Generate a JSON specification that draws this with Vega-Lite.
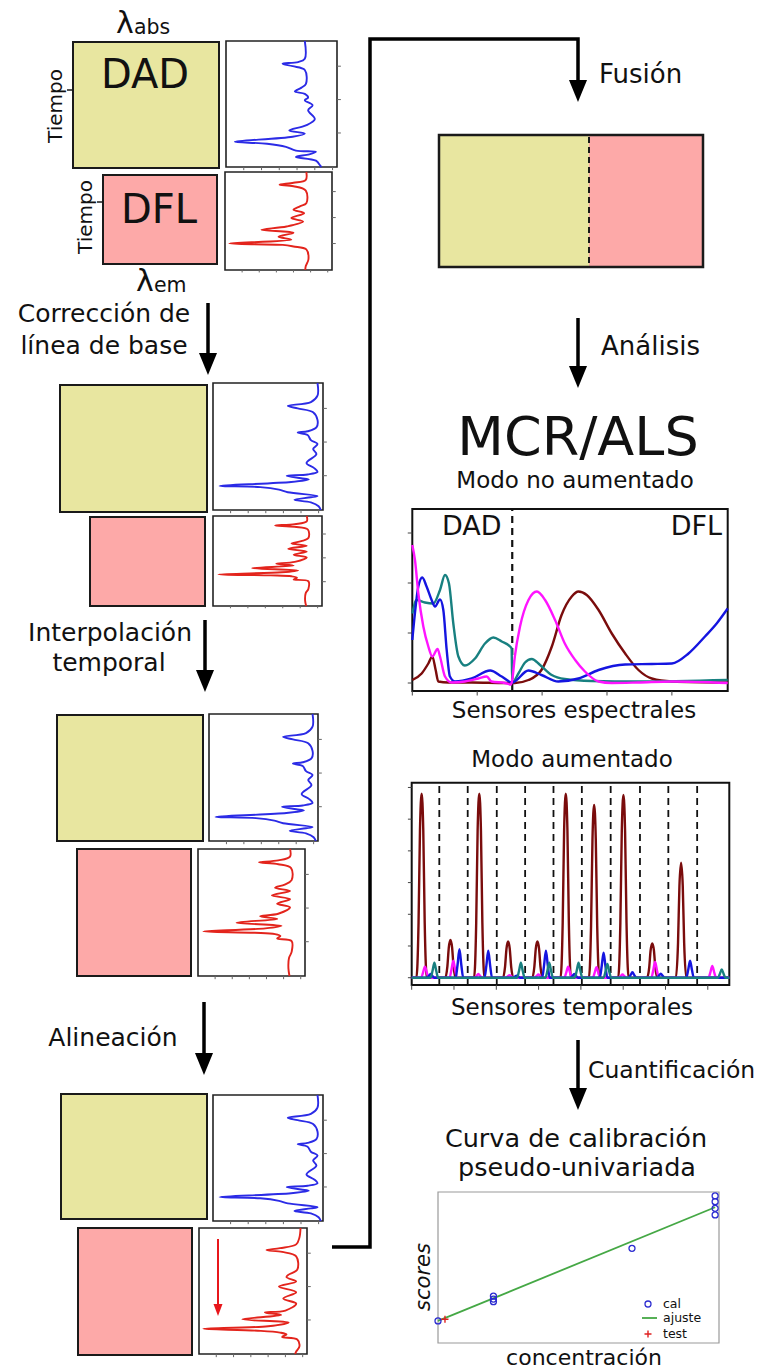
{
"$schema": "https://vega.github.io/schema/vega-lite/v6.json",
"width": 773, "height": 1370, "padding": 0, "autosize": {"type": "none"},
"background": "white",
"config": {"view": {"stroke": null}, "axis": {"disable": true}, "legend": {"disable": true}},
"resolve": {"scale": {"x": "independent", "y": "independent"}},
"datasets": {
 "rt": [{"i":1,"i2":1.035,"t":0.2},{"i":1,"i2":1.035,"t":0.465},{"i":1,"i2":1.035,"t":0.73}],
 "bt": [{"i":0.16,"t":1,"t2":1.025},{"i":0.32,"t":1,"t2":1.025},{"i":0.48,"t":1,"t2":1.025},{"i":0.64,"t":1,"t2":1.025},{"i":0.8,"t":1,"t2":1.025},{"i":0.96,"t":1,"t2":1.025}],
 "blueRaw": [{"i":0.71,"t":0},{"i":0.71,"t":0.14},{"i":0.65,"t":0.167},{"i":0.51,"t":0.18},{"i":0.6,"t":0.2},{"i":0.71,"t":0.23},{"i":0.72,"t":0.34},{"i":0.68,"t":0.37},{"i":0.62,"t":0.4},{"i":0.71,"t":0.42},{"i":0.74,"t":0.45},{"i":0.71,"t":0.47},{"i":0.78,"t":0.51},{"i":0.74,"t":0.55},{"i":0.8,"t":0.62},{"i":0.72,"t":0.67},{"i":0.57,"t":0.71},{"i":0.71,"t":0.735},{"i":0.6,"t":0.76},{"i":0.08,"t":0.8},{"i":0.37,"t":0.815},{"i":0.54,"t":0.84},{"i":0.63,"t":0.87},{"i":0.81,"t":0.88},{"i":0.75,"t":0.9},{"i":0.63,"t":0.92},{"i":0.81,"t":0.95},{"i":0.85,"t":0.99},{"i":0.86,"t":1}],
 "redRaw": [{"i":0.76,"t":0},{"i":0.755,"t":0.08},{"i":0.64,"t":0.11},{"i":0.51,"t":0.13},{"i":0.64,"t":0.145},{"i":0.755,"t":0.19},{"i":0.76,"t":0.32},{"i":0.7,"t":0.35},{"i":0.64,"t":0.385},{"i":0.74,"t":0.42},{"i":0.62,"t":0.47},{"i":0.73,"t":0.505},{"i":0.575,"t":0.556},{"i":0.34,"t":0.59},{"i":0.64,"t":0.62},{"i":0.5,"t":0.66},{"i":0.62,"t":0.69},{"i":0.04,"t":0.73},{"i":0.54,"t":0.744},{"i":0.64,"t":0.76},{"i":0.76,"t":0.79},{"i":0.78,"t":0.89},{"i":0.755,"t":0.96},{"i":0.75,"t":1}],
 "blueCorr": [{"i":0.95,"t":0},{"i":0.95,"t":0.1},{"i":0.89,"t":0.15},{"i":0.68,"t":0.18},{"i":0.77,"t":0.2},{"i":0.91,"t":0.23},{"i":0.95,"t":0.29},{"i":0.94,"t":0.35},{"i":0.86,"t":0.38},{"i":0.77,"t":0.39},{"i":0.86,"t":0.41},{"i":0.89,"t":0.45},{"i":0.95,"t":0.48},{"i":0.91,"t":0.52},{"i":0.94,"t":0.56},{"i":0.85,"t":0.63},{"i":0.92,"t":0.67},{"i":0.95,"t":0.7},{"i":0.86,"t":0.72},{"i":0.67,"t":0.73},{"i":0.8,"t":0.75},{"i":0.87,"t":0.76},{"i":0.71,"t":0.78},{"i":0.06,"t":0.81},{"i":0.43,"t":0.82},{"i":0.6,"t":0.84},{"i":0.68,"t":0.86},{"i":0.95,"t":0.89},{"i":0.89,"t":0.9},{"i":0.74,"t":0.92},{"i":0.89,"t":0.94},{"i":0.96,"t":0.97},{"i":0.98,"t":1}],
 "redCorr": [{"i":0.86,"t":0},{"i":0.86,"t":0.06},{"i":0.75,"t":0.09},{"i":0.57,"t":0.105},{"i":0.75,"t":0.12},{"i":0.87,"t":0.15},{"i":0.875,"t":0.245},{"i":0.81,"t":0.28},{"i":0.72,"t":0.305},{"i":0.86,"t":0.33},{"i":0.69,"t":0.365},{"i":0.86,"t":0.395},{"i":0.74,"t":0.43},{"i":0.86,"t":0.46},{"i":0.75,"t":0.51},{"i":0.58,"t":0.53},{"i":0.74,"t":0.55},{"i":0.36,"t":0.58},{"i":0.78,"t":0.605},{"i":0.63,"t":0.625},{"i":0.05,"t":0.65},{"i":0.53,"t":0.66},{"i":0.72,"t":0.67},{"i":0.77,"t":0.685},{"i":0.74,"t":0.705},{"i":0.875,"t":0.725},{"i":0.875,"t":0.81},{"i":0.85,"t":0.86},{"i":0.845,"t":0.94},{"i":0.855,"t":1}],
 "redAligned": [{"i":0.94,"t":0},{"i":0.93,"t":0.075},{"i":0.9,"t":0.13},{"i":0.75,"t":0.16},{"i":0.625,"t":0.175},{"i":0.77,"t":0.19},{"i":0.9,"t":0.225},{"i":0.91,"t":0.33},{"i":0.83,"t":0.37},{"i":0.81,"t":0.39},{"i":0.9,"t":0.425},{"i":0.74,"t":0.465},{"i":0.9,"t":0.51},{"i":0.78,"t":0.56},{"i":0.9,"t":0.6},{"i":0.8,"t":0.655},{"i":0.61,"t":0.67},{"i":0.76,"t":0.69},{"i":0.4,"t":0.725},{"i":0.83,"t":0.75},{"i":0.64,"t":0.78},{"i":0.04,"t":0.8},{"i":0.545,"t":0.815},{"i":0.75,"t":0.83},{"i":0.81,"t":0.845},{"i":0.77,"t":0.865},{"i":0.91,"t":0.885},{"i":0.93,"t":0.94},{"i":0.9,"t":0.98},{"i":0.89,"t":1}],
 "spec_r": [{"x":0,"y":0.06},{"x":14.4,"y":0.19},{"x":24.7,"y":0.39},{"x":30.8,"y":0.53},{"x":36,"y":0.26},{"x":40,"y":0.03},{"x":55.5,"y":0.01},{"x":91.5,"y":0.01},{"x":143,"y":0},{"x":158,"y":0},{"x":179,"y":0.06},{"x":199,"y":0.26},{"x":215,"y":0.73},{"x":230,"y":1.36},{"x":245.7,"y":1.73},{"x":256,"y":1.83},{"x":268.8,"y":1.76},{"x":287,"y":1.46},{"x":307.4,"y":0.99},{"x":328,"y":0.59},{"x":348.5,"y":0.26},{"x":369,"y":0.09},{"x":400,"y":0.03},{"x":486,"y":0.01}],
 "spec_t": [{"x":0,"y":1.39},{"x":6.7,"y":1.66},{"x":19.5,"y":1.61},{"x":32.4,"y":1.59},{"x":42.7,"y":1.86},{"x":50.4,"y":2.16},{"x":56.5,"y":1.99},{"x":63.2,"y":1.19},{"x":71,"y":0.53},{"x":81,"y":0.35},{"x":96.6,"y":0.49},{"x":112,"y":0.79},{"x":124.9,"y":0.91},{"x":137.8,"y":0.83},{"x":150.6,"y":0.73},{"x":153,"y":0.69},{"x":154,"y":0.01},{"x":163.5,"y":0.19},{"x":173.7,"y":0.41},{"x":184,"y":0.48},{"x":196.9,"y":0.36},{"x":214.9,"y":0.16},{"x":235,"y":0.08},{"x":276,"y":0.04},{"x":348,"y":0.03},{"x":486,"y":0.06}],
 "spec_b": [{"x":0,"y":0.86},{"x":4,"y":1.39},{"x":9.3,"y":1.93},{"x":15.4,"y":2.11},{"x":22,"y":1.93},{"x":29.8,"y":1.66},{"x":35,"y":1.53},{"x":42.7,"y":1.67},{"x":47.8,"y":1.46},{"x":53,"y":0.66},{"x":58,"y":0.13},{"x":65.8,"y":0.03},{"x":91.5,"y":0.09},{"x":120,"y":0.25},{"x":137.8,"y":0.13},{"x":154,"y":0.01},{"x":178.9,"y":0.25},{"x":199,"y":0.16},{"x":225,"y":0.03},{"x":256,"y":0.09},{"x":287,"y":0.26},{"x":328,"y":0.37},{"x":369,"y":0.38},{"x":400,"y":0.39},{"x":425.6,"y":0.59},{"x":451,"y":0.93},{"x":469,"y":1.19},{"x":486,"y":1.49}],
 "spec_m": [{"x":0,"y":2.76},{"x":4.1,"y":2.46},{"x":9.3,"y":1.79},{"x":17,"y":1.13},{"x":24.7,"y":0.73},{"x":30.8,"y":0.53},{"x":39,"y":0.68},{"x":42.7,"y":0.53},{"x":50.4,"y":0.13},{"x":60.7,"y":0.01},{"x":81,"y":0.03},{"x":101.8,"y":0.09},{"x":114.6,"y":0.13},{"x":122,"y":0.03},{"x":143,"y":0},{"x":152,"y":-0.03},{"x":154,"y":0.06},{"x":158,"y":0.53},{"x":166,"y":1.13},{"x":179,"y":1.66},{"x":192,"y":1.83},{"x":204.6,"y":1.66},{"x":220,"y":1.26},{"x":235,"y":0.79},{"x":251,"y":0.46},{"x":266,"y":0.23},{"x":287,"y":0.03},{"x":307,"y":0},{"x":348,"y":0.01},{"x":400,"y":0.03},{"x":486,"y":0}],
 "aug_r": [{"x":0,"y":0},{"x":10,"y":0},{"x":14.5,"y":1.74},{"x":17.5,"y":4.64},{"x":21,"y":5.8},{"x":24.5,"y":4.64},{"x":27.5,"y":1.74},{"x":32,"y":0},{"x":71,"y":0},{"x":75.5,"y":0.36},{"x":78.5,"y":0.95},{"x":82,"y":1.19},{"x":85.5,"y":0.95},{"x":88.5,"y":0.36},{"x":93,"y":0},{"x":132,"y":0},{"x":136.5,"y":1.74},{"x":139.5,"y":4.64},{"x":143,"y":5.8},{"x":146.5,"y":4.64},{"x":149.5,"y":1.74},{"x":154,"y":0},{"x":193,"y":0},{"x":197.5,"y":0.34},{"x":200.5,"y":0.91},{"x":204,"y":1.14},{"x":207.5,"y":0.91},{"x":210.5,"y":0.34},{"x":215,"y":0},{"x":255,"y":0},{"x":259.5,"y":0.34},{"x":262.5,"y":0.91},{"x":266,"y":1.14},{"x":269.5,"y":0.91},{"x":272.5,"y":0.34},{"x":277,"y":0},{"x":315,"y":0},{"x":319.5,"y":1.74},{"x":322.5,"y":4.64},{"x":326,"y":5.8},{"x":329.5,"y":4.64},{"x":332.5,"y":1.74},{"x":337,"y":0},{"x":375,"y":0},{"x":379.5,"y":1.64},{"x":382.5,"y":4.36},{"x":386,"y":5.45},{"x":389.5,"y":4.36},{"x":392.5,"y":1.64},{"x":397,"y":0},{"x":437,"y":0},{"x":441.5,"y":1.73},{"x":444.5,"y":4.61},{"x":448,"y":5.76},{"x":451.5,"y":4.61},{"x":454.5,"y":1.73},{"x":459,"y":0},{"x":498,"y":0},{"x":502.5,"y":0.32},{"x":505.5,"y":0.86},{"x":509,"y":1.08},{"x":512.5,"y":0.86},{"x":515.5,"y":0.32},{"x":520,"y":0},{"x":559,"y":0},{"x":563.5,"y":1.09},{"x":566.5,"y":2.9},{"x":570,"y":3.63},{"x":573.5,"y":2.9},{"x":576.5,"y":1.09},{"x":581,"y":0},{"x":672,"y":0}],
 "aug_m": [{"x":0,"y":0},{"x":20,"y":0},{"x":24,"y":0.16},{"x":28,"y":0.35},{"x":32,"y":0.16},{"x":36,"y":0},{"x":80,"y":0},{"x":84,"y":0.24},{"x":88,"y":0.54},{"x":92,"y":0.24},{"x":96,"y":0},{"x":133,"y":0},{"x":137,"y":0.05},{"x":141,"y":0.12},{"x":145,"y":0.05},{"x":149,"y":0},{"x":199,"y":0},{"x":203,"y":0.04},{"x":207,"y":0.08},{"x":211,"y":0.04},{"x":215,"y":0},{"x":260,"y":0},{"x":264,"y":0.05},{"x":268,"y":0.1},{"x":272,"y":0.05},{"x":276,"y":0},{"x":323,"y":0},{"x":327,"y":0.16},{"x":331,"y":0.35},{"x":335,"y":0.16},{"x":339,"y":0},{"x":383,"y":0},{"x":387,"y":0.15},{"x":391,"y":0.33},{"x":395,"y":0.15},{"x":399,"y":0},{"x":438,"y":0},{"x":442,"y":0.05},{"x":446,"y":0.1},{"x":450,"y":0.05},{"x":454,"y":0},{"x":507,"y":0},{"x":511,"y":0.23},{"x":515,"y":0.5},{"x":519,"y":0.23},{"x":523,"y":0},{"x":628,"y":0},{"x":632,"y":0.17},{"x":636,"y":0.37},{"x":640,"y":0.17},{"x":644,"y":0},{"x":672,"y":0}],
 "aug_b": [{"x":0,"y":0},{"x":32,"y":0},{"x":36,"y":0.05},{"x":40,"y":0.12},{"x":44,"y":0.05},{"x":48,"y":0},{"x":93,"y":0},{"x":97,"y":0.4},{"x":101,"y":0.9},{"x":105,"y":0.4},{"x":109,"y":0},{"x":154,"y":0},{"x":158,"y":0.38},{"x":162,"y":0.85},{"x":166,"y":0.38},{"x":170,"y":0},{"x":214,"y":0},{"x":218,"y":0.03},{"x":222,"y":0.06},{"x":226,"y":0.03},{"x":230,"y":0},{"x":276,"y":0},{"x":280,"y":0.38},{"x":284,"y":0.85},{"x":288,"y":0.38},{"x":292,"y":0},{"x":336,"y":0},{"x":340,"y":0.05},{"x":344,"y":0.12},{"x":348,"y":0.05},{"x":352,"y":0},{"x":398,"y":0},{"x":402,"y":0.36},{"x":406,"y":0.79},{"x":410,"y":0.36},{"x":414,"y":0},{"x":459,"y":0},{"x":463,"y":0.08},{"x":467,"y":0.17},{"x":471,"y":0.08},{"x":475,"y":0},{"x":519,"y":0},{"x":523,"y":0.06},{"x":527,"y":0.13},{"x":531,"y":0.06},{"x":535,"y":0},{"x":581,"y":0},{"x":585,"y":0.24},{"x":589,"y":0.54},{"x":593,"y":0.24},{"x":597,"y":0},{"x":672,"y":0}],
 "aug_t": [{"x":0,"y":0},{"x":40,"y":0},{"x":44,"y":0.21},{"x":48,"y":0.47},{"x":52,"y":0.21},{"x":56,"y":0},{"x":223,"y":0},{"x":227,"y":0.21},{"x":231,"y":0.47},{"x":235,"y":0.21},{"x":239,"y":0},{"x":283,"y":0},{"x":287,"y":0.21},{"x":291,"y":0.47},{"x":295,"y":0.21},{"x":299,"y":0},{"x":345,"y":0},{"x":349,"y":0.21},{"x":353,"y":0.47},{"x":357,"y":0.21},{"x":361,"y":0},{"x":406,"y":0},{"x":410,"y":0.19},{"x":414,"y":0.43},{"x":418,"y":0.19},{"x":422,"y":0},{"x":648,"y":0},{"x":652,"y":0.12},{"x":656,"y":0.26},{"x":660,"y":0.12},{"x":664,"y":0},{"x":672,"y":0}]
},
"layer": [
 {
  "encoding": {
   "x": {"field": "x", "type": "quantitative", "scale": {"domain": [0, 773], "range": [0, 773], "nice": false, "zero": false}},
   "y": {"field": "y", "type": "quantitative", "scale": {"domain": [0, 1370], "range": [0, 1370], "nice": false, "zero": false}}
  },
  "layer": [
   {"data": {"values": [{"x":73,"y":42,"x2":219,"y2":168},{"x":60,"y":385,"x2":207,"y2":512},{"x":57,"y":715,"x2":203,"y2":841},{"x":61,"y":1094,"x2":207,"y2":1219}]},
    "mark": {"type": "rect", "fill": "#e8e6a0", "stroke": "#1a1a1a", "strokeWidth": 2},
    "encoding": {"x2": {"field": "x2"}, "y2": {"field": "y2"}}},
   {"data": {"values": [{"x":103,"y":175,"x2":217,"y2":264},{"x":90,"y":517,"x2":205,"y2":606},{"x":77,"y":849,"x2":191,"y2":976},{"x":78,"y":1228,"x2":192,"y2":1355}]},
    "mark": {"type": "rect", "fill": "#fda9a8", "stroke": "#1a1a1a", "strokeWidth": 2},
    "encoding": {"x2": {"field": "x2"}, "y2": {"field": "y2"}}},
   {"data": {"values": [{"x":439,"y":135,"x2":589,"y2":267}]},
    "mark": {"type": "rect", "fill": "#e8e6a0"},
    "encoding": {"x2": {"field": "x2"}, "y2": {"field": "y2"}}},
   {"data": {"values": [{"x":589,"y":135,"x2":703,"y2":267}]},
    "mark": {"type": "rect", "fill": "#fda9a8"},
    "encoding": {"x2": {"field": "x2"}, "y2": {"field": "y2"}}},
   {"data": {"values": [{"x":439,"y":135,"x2":703,"y2":267}]},
    "mark": {"type": "rect", "fill": "transparent", "stroke": "#1a1a1a", "strokeWidth": 2.5},
    "encoding": {"x2": {"field": "x2"}, "y2": {"field": "y2"}}},
   {"data": {"values": [{"x":589,"y":137,"y2":265}]},
    "mark": {"type": "rule", "stroke": "#1a1a1a", "strokeWidth": 2, "strokeDash": [6, 4]},
    "encoding": {"y2": {"field": "y2"}}},
   {"data": {"values": [{"x":67,"x2":73,"y":90},{"x":97,"x2":103,"y":202}]},
    "mark": {"type": "rule", "stroke": "#1a1a1a", "strokeWidth": 1.5},
    "encoding": {"x2": {"field": "x2"}}},
   {"data": {"values": [{"x":208,"y":303,"y2":357},{"x":205,"y":620,"y2":674},{"x":204,"y":1002,"y2":1057},{"x":578,"y":318,"y2":370},{"x":578,"y":1040,"y2":1092}]},
    "mark": {"type": "rule", "stroke": "#000", "strokeWidth": 3.5},
    "encoding": {"y2": {"field": "y2"}}},
   {"data": {"values": [{"k":1,"x":332,"y":1247},{"k":2,"x":370,"y":1247},{"k":3,"x":370,"y":39},{"k":4,"x":578,"y":39},{"k":5,"x":578,"y":84}]},
    "mark": {"type": "line", "stroke": "#000", "strokeWidth": 3.5, "strokeJoin": "miter", "strokeCap": "butt"},
    "encoding": {"order": {"field": "k"}}},
   {"data": {"values": [{"x":208,"y":375},{"x":205,"y":692},{"x":204,"y":1075},{"x":578,"y":102},{"x":578,"y":388},{"x":578,"y":1110}]},
    "mark": {"type": "point", "shape": "M-0.82,-2L0.82,-2L0,0Z", "size": 484, "filled": true, "fill": "#000", "strokeWidth": 0, "opacity": 1}},
   {"data": {"values": [{"x":218,"y":1239,"y2":1306}]},
    "mark": {"type": "rule", "stroke": "#e8161b", "strokeWidth": 2},
    "encoding": {"y2": {"field": "y2"}}},
   {"data": {"values": [{"x":218,"y":1316}]},
    "mark": {"type": "point", "shape": "M-0.75,-2L0.75,-2L0,0Z", "size": 144, "filled": true, "fill": "#e8161b", "strokeWidth": 0, "opacity": 1}},
   {"data": {"values": [{"x":104,"y":322,"label":"Corrección de"},{"x":104,"y":354,"label":"línea de base"},{"x":110,"y":641,"label":"Interpolación"},{"x":109,"y":671,"label":"temporal"},{"x":113,"y":1046,"label":"Alineación"}]},
    "mark": {"type": "text", "font": "DejaVu Sans", "fontSize": 25, "align": "center", "baseline": "alphabetic", "fill": "#111"},
    "encoding": {"text": {"field": "label"}}},
   {"data": {"values": [{"x":599,"y":83,"label":"Fusión"},{"x":601,"y":355,"label":"Análisis"}]},
    "mark": {"type": "text", "font": "DejaVu Sans", "fontSize": 26, "align": "left", "baseline": "alphabetic", "fill": "#111"},
    "encoding": {"text": {"field": "label"}}},
   {"data": {"values": [{"x":588,"y":1078,"label":"Cuantificación"}]},
    "mark": {"type": "text", "font": "DejaVu Sans", "fontSize": 23.5, "align": "left", "baseline": "alphabetic", "fill": "#111"},
    "encoding": {"text": {"field": "label"}}},
   {"data": {"values": [{"x":575,"y":488,"label":"Modo no aumentado"},{"x":574,"y":718,"label":"Sensores espectrales"},{"x":572,"y":767,"label":"Modo aumentado"},{"x":572,"y":1015,"label":"Sensores temporales"}]},
    "mark": {"type": "text", "font": "DejaVu Sans", "fontSize": 23, "align": "center", "baseline": "alphabetic", "fill": "#111"},
    "encoding": {"text": {"field": "label"}}},
   {"data": {"values": [{"x":576,"y":1147,"label":"Curva de calibración"},{"x":577,"y":1176,"label":"pseudo-univariada"}]},
    "mark": {"type": "text", "font": "DejaVu Sans", "fontSize": 25.5, "align": "center", "baseline": "alphabetic", "fill": "#111"},
    "encoding": {"text": {"field": "label"}}},
   {"data": {"values": [{"x":584,"y":1365,"label":"concentración"}]},
    "mark": {"type": "text", "font": "DejaVu Sans", "fontSize": 22, "align": "center", "baseline": "alphabetic", "fill": "#111"},
    "encoding": {"text": {"field": "label"}}},
   {"data": {"values": [{"x":578,"y":455,"label":"MCR/ALS"}]},
    "mark": {"type": "text", "font": "DejaVu Sans", "fontSize": 54, "align": "center", "baseline": "alphabetic", "fill": "#111"},
    "encoding": {"text": {"field": "label"}}},
   {"data": {"values": [{"x":145,"y":88,"label":"DAD"},{"x":159,"y":223,"label":"DFL"}]},
    "mark": {"type": "text", "font": "DejaVu Sans", "fontSize": 40, "align": "center", "baseline": "alphabetic", "fill": "#111"},
    "encoding": {"text": {"field": "label"}}},
   {"data": {"values": [{"x":56,"y":106,"label":"Tiempo"},{"x":86,"y":217,"label":"Tiempo"}]},
    "mark": {"type": "text", "font": "DejaVu Sans", "fontSize": 20, "align": "center", "baseline": "middle", "angle": 270, "fill": "#111"},
    "encoding": {"text": {"field": "label"}}},
   {"data": {"values": [{"x":116,"y":33,"label":"λ"},{"x":136,"y":291,"label":"λ"}]},
    "mark": {"type": "text", "font": "DejaVu Sans", "fontSize": 30, "align": "left", "baseline": "alphabetic", "fill": "#111"},
    "encoding": {"text": {"field": "label"}}},
   {"data": {"values": [{"x":134,"y":34,"label":"abs"},{"x":154,"y":292,"label":"em"}]},
    "mark": {"type": "text", "font": "DejaVu Sans", "fontSize": 20.5, "align": "left", "baseline": "alphabetic", "fill": "#111"},
    "encoding": {"text": {"field": "label"}}},
   {"data": {"values": [{"x":442,"y":535,"label":"DAD"}]},
    "mark": {"type": "text", "font": "DejaVu Sans", "fontSize": 27, "align": "left", "baseline": "alphabetic", "fill": "#111"},
    "encoding": {"text": {"field": "label"}}},
   {"data": {"values": [{"x":722,"y":535,"label":"DFL"}]},
    "mark": {"type": "text", "font": "DejaVu Sans", "fontSize": 27, "align": "right", "baseline": "alphabetic", "fill": "#111"},
    "encoding": {"text": {"field": "label"}}},
   {"data": {"values": [{"x":424,"y":1277,"label":"scores"}]},
    "mark": {"type": "text", "font": "DejaVu Sans", "fontSize": 21, "fontStyle": "italic", "align": "center", "baseline": "middle", "angle": 270, "fill": "#111"},
    "encoding": {"text": {"field": "label"}}},
   {"data": {"values": [{"x":663,"y":1304,"label":"cal"},{"x":663,"y":1318,"label":"ajuste"},{"x":663,"y":1334,"label":"test"}]},
    "mark": {"type": "text", "font": "DejaVu Sans", "fontSize": 12.5, "align": "left", "baseline": "middle", "fill": "#111"},
    "encoding": {"text": {"field": "label"}}},
   {"data": {"values": [{"x":648,"y":1304}]},
    "mark": {"type": "point", "shape": "circle", "size": 36, "filled": false, "stroke": "#2c2cd0", "strokeWidth": 1.3, "opacity": 1}},
   {"data": {"values": [{"x":642,"x2":657,"y":1318}]},
    "mark": {"type": "rule", "stroke": "#45a845", "strokeWidth": 1.8},
    "encoding": {"x2": {"field": "x2"}}},
   {"data": {"values": [{"x":648,"y":1334}]},
    "mark": {"type": "point", "shape": "M-1,0L1,0M0,-1L0,1", "size": 49, "filled": false, "stroke": "#e02020", "strokeWidth": 1.4, "opacity": 1}}
  ]
 },
 {"encoding": {"x": {"field":"i","type":"quantitative","scale":{"domain":[0,1],"range":[226,337],"nice":false,"zero":false}},"y": {"field":"t","type":"quantitative","scale":{"domain":[0,1],"range":[41,167],"nice":false,"zero":false}}},
  "layer": [
   {"data":{"values":[{"i":0,"t":0,"i2":1,"t2":1}]},"mark":{"type":"rect","fill":"transparent","stroke":"#222","strokeWidth":1.6},"encoding":{"x2":{"field":"i2"},"y2":{"field":"t2"}}},
   {"data":{"name":"rt"},"mark":{"type":"rule","stroke":"#666","strokeWidth":1},"encoding":{"x2":{"field":"i2"}}},
   {"data":{"name":"bt"},"mark":{"type":"rule","stroke":"#666","strokeWidth":1},"encoding":{"y2":{"field":"t2"}}},
   {"data":{"name":"blueRaw"},"mark":{"type":"line","stroke":"#2b2be6","strokeWidth":1.9,"interpolate":"catmull-rom"},"encoding":{"order":{"field":"t"}}}
  ]},
 {"encoding": {"x": {"field":"i","type":"quantitative","scale":{"domain":[0,1],"range":[225,332],"nice":false,"zero":false}},"y": {"field":"t","type":"quantitative","scale":{"domain":[0,1],"range":[172,270],"nice":false,"zero":false}}},
  "layer": [
   {"data":{"values":[{"i":0,"t":0,"i2":1,"t2":1}]},"mark":{"type":"rect","fill":"transparent","stroke":"#222","strokeWidth":1.6},"encoding":{"x2":{"field":"i2"},"y2":{"field":"t2"}}},
   {"data":{"name":"rt"},"mark":{"type":"rule","stroke":"#666","strokeWidth":1},"encoding":{"x2":{"field":"i2"}}},
   {"data":{"name":"bt"},"mark":{"type":"rule","stroke":"#666","strokeWidth":1},"encoding":{"y2":{"field":"t2"}}},
   {"data":{"name":"redRaw"},"mark":{"type":"line","stroke":"#e3241c","strokeWidth":1.9,"interpolate":"catmull-rom"},"encoding":{"order":{"field":"t"}}}
  ]},
 {"encoding": {"x": {"field":"i","type":"quantitative","scale":{"domain":[0,1],"range":[213,323],"nice":false,"zero":false}},"y": {"field":"t","type":"quantitative","scale":{"domain":[0,1],"range":[383,510],"nice":false,"zero":false}}},
  "layer": [
   {"data":{"values":[{"i":0,"t":0,"i2":1,"t2":1}]},"mark":{"type":"rect","fill":"transparent","stroke":"#222","strokeWidth":1.6},"encoding":{"x2":{"field":"i2"},"y2":{"field":"t2"}}},
   {"data":{"name":"rt"},"mark":{"type":"rule","stroke":"#666","strokeWidth":1},"encoding":{"x2":{"field":"i2"}}},
   {"data":{"name":"bt"},"mark":{"type":"rule","stroke":"#666","strokeWidth":1},"encoding":{"y2":{"field":"t2"}}},
   {"data":{"name":"blueCorr"},"mark":{"type":"line","stroke":"#2b2be6","strokeWidth":1.9,"interpolate":"catmull-rom"},"encoding":{"order":{"field":"t"}}}
  ]},
 {"encoding": {"x": {"field":"i","type":"quantitative","scale":{"domain":[0,1],"range":[213,322],"nice":false,"zero":false}},"y": {"field":"t","type":"quantitative","scale":{"domain":[0,1],"range":[516,606],"nice":false,"zero":false}}},
  "layer": [
   {"data":{"values":[{"i":0,"t":0,"i2":1,"t2":1}]},"mark":{"type":"rect","fill":"transparent","stroke":"#222","strokeWidth":1.6},"encoding":{"x2":{"field":"i2"},"y2":{"field":"t2"}}},
   {"data":{"name":"rt"},"mark":{"type":"rule","stroke":"#666","strokeWidth":1},"encoding":{"x2":{"field":"i2"}}},
   {"data":{"name":"bt"},"mark":{"type":"rule","stroke":"#666","strokeWidth":1},"encoding":{"y2":{"field":"t2"}}},
   {"data":{"name":"redCorr"},"mark":{"type":"line","stroke":"#e3241c","strokeWidth":1.9,"interpolate":"catmull-rom"},"encoding":{"order":{"field":"t"}}}
  ]},
 {"encoding": {"x": {"field":"i","type":"quantitative","scale":{"domain":[0,1],"range":[209,318],"nice":false,"zero":false}},"y": {"field":"t","type":"quantitative","scale":{"domain":[0,1],"range":[714,841],"nice":false,"zero":false}}},
  "layer": [
   {"data":{"values":[{"i":0,"t":0,"i2":1,"t2":1}]},"mark":{"type":"rect","fill":"transparent","stroke":"#222","strokeWidth":1.6},"encoding":{"x2":{"field":"i2"},"y2":{"field":"t2"}}},
   {"data":{"name":"rt"},"mark":{"type":"rule","stroke":"#666","strokeWidth":1},"encoding":{"x2":{"field":"i2"}}},
   {"data":{"name":"bt"},"mark":{"type":"rule","stroke":"#666","strokeWidth":1},"encoding":{"y2":{"field":"t2"}}},
   {"data":{"name":"blueCorr"},"mark":{"type":"line","stroke":"#2b2be6","strokeWidth":1.9,"interpolate":"catmull-rom"},"encoding":{"order":{"field":"t"}}}
  ]},
 {"encoding": {"x": {"field":"i","type":"quantitative","scale":{"domain":[0,1],"range":[198,305],"nice":false,"zero":false}},"y": {"field":"t","type":"quantitative","scale":{"domain":[0,1],"range":[849,976],"nice":false,"zero":false}}},
  "layer": [
   {"data":{"values":[{"i":0,"t":0,"i2":1,"t2":1}]},"mark":{"type":"rect","fill":"transparent","stroke":"#222","strokeWidth":1.6},"encoding":{"x2":{"field":"i2"},"y2":{"field":"t2"}}},
   {"data":{"name":"rt"},"mark":{"type":"rule","stroke":"#666","strokeWidth":1},"encoding":{"x2":{"field":"i2"}}},
   {"data":{"name":"bt"},"mark":{"type":"rule","stroke":"#666","strokeWidth":1},"encoding":{"y2":{"field":"t2"}}},
   {"data":{"name":"redCorr"},"mark":{"type":"line","stroke":"#e3241c","strokeWidth":1.9,"interpolate":"catmull-rom"},"encoding":{"order":{"field":"t"}}}
  ]},
 {"encoding": {"x": {"field":"i","type":"quantitative","scale":{"domain":[0,1],"range":[213,323],"nice":false,"zero":false}},"y": {"field":"t","type":"quantitative","scale":{"domain":[0,1],"range":[1095,1221],"nice":false,"zero":false}}},
  "layer": [
   {"data":{"values":[{"i":0,"t":0,"i2":1,"t2":1}]},"mark":{"type":"rect","fill":"transparent","stroke":"#222","strokeWidth":1.6},"encoding":{"x2":{"field":"i2"},"y2":{"field":"t2"}}},
   {"data":{"name":"rt"},"mark":{"type":"rule","stroke":"#666","strokeWidth":1},"encoding":{"x2":{"field":"i2"}}},
   {"data":{"name":"bt"},"mark":{"type":"rule","stroke":"#666","strokeWidth":1},"encoding":{"y2":{"field":"t2"}}},
   {"data":{"name":"blueCorr"},"mark":{"type":"line","stroke":"#2b2be6","strokeWidth":1.9,"interpolate":"catmull-rom"},"encoding":{"order":{"field":"t"}}}
  ]},
 {"encoding": {"x": {"field":"i","type":"quantitative","scale":{"domain":[0,1],"range":[199,307],"nice":false,"zero":false}},"y": {"field":"t","type":"quantitative","scale":{"domain":[0,1],"range":[1228,1354],"nice":false,"zero":false}}},
  "layer": [
   {"data":{"values":[{"i":0,"t":0,"i2":1,"t2":1}]},"mark":{"type":"rect","fill":"transparent","stroke":"#222","strokeWidth":1.6},"encoding":{"x2":{"field":"i2"},"y2":{"field":"t2"}}},
   {"data":{"name":"rt"},"mark":{"type":"rule","stroke":"#666","strokeWidth":1},"encoding":{"x2":{"field":"i2"}}},
   {"data":{"name":"bt"},"mark":{"type":"rule","stroke":"#666","strokeWidth":1},"encoding":{"y2":{"field":"t2"}}},
   {"data":{"name":"redAligned"},"mark":{"type":"line","stroke":"#e3241c","strokeWidth":1.9,"interpolate":"catmull-rom"},"encoding":{"order":{"field":"t"}}}
  ]},
 {"encoding": {"x": {"field":"x","type":"quantitative","scale":{"domain":[0,486],"range":[412.3,727.7],"nice":false,"zero":false}},"y": {"field":"y","type":"quantitative","scale":{"domain":[-0.16,3.48],"range":[691,509],"nice":false,"zero":false}}},
  "layer": [
   {"data":{"values":[{"x":0,"y":-0.16,"x2":486,"y2":3.48}]},"mark":{"type":"rect","fill":"transparent","stroke":"#111","strokeWidth":2},"encoding":{"x2":{"field":"x2"},"y2":{"field":"y2"}}},
   {"data":{"values":[{"x":-7,"x2":0,"y":0},{"x":-7,"x2":0,"y":1},{"x":-7,"x2":0,"y":2},{"x":-7,"x2":0,"y":3}]},"mark":{"type":"rule","stroke":"#444","strokeWidth":1},"encoding":{"x2":{"field":"x2"}}},
   {"data":{"values":[{"x":0,"y":-0.16,"y2":-0.25},{"x":100,"y":-0.16,"y2":-0.25},{"x":200,"y":-0.16,"y2":-0.25},{"x":300,"y":-0.16,"y2":-0.25},{"x":400,"y":-0.16,"y2":-0.25}]},"mark":{"type":"rule","stroke":"#444","strokeWidth":1},"encoding":{"y2":{"field":"y2"}}},
   {"data":{"values":[{"x":154,"y":-0.16,"y2":3.48}]},"mark":{"type":"rule","stroke":"#111","strokeWidth":2.2,"strokeDash":[7,5]},"encoding":{"y2":{"field":"y2"}}},
   {"data":{"name":"spec_r"},"mark":{"type":"line","stroke":"#7a0c0c","strokeWidth":2.4,"interpolate":"monotone"}},
   {"data":{"name":"spec_t"},"mark":{"type":"line","stroke":"#188080","strokeWidth":2.4,"interpolate":"monotone"}},
   {"data":{"name":"spec_b"},"mark":{"type":"line","stroke":"#1515e0","strokeWidth":2.4,"interpolate":"monotone"}},
   {"data":{"name":"spec_m"},"mark":{"type":"line","stroke":"#ff14ff","strokeWidth":2.4,"interpolate":"monotone"}}
  ]},
 {"encoding": {"x": {"field":"x","type":"quantitative","scale":{"domain":[0,672],"range":[411.7,729.3],"nice":false,"zero":false}},"y": {"field":"y","type":"quantitative","scale":{"domain":[-0.23,6.15],"range":[985,782.7],"nice":false,"zero":false}}},
  "layer": [
   {"data":{"values":[{"x":0,"y":-0.23,"x2":672,"y2":6.15}]},"mark":{"type":"rect","fill":"transparent","stroke":"#111","strokeWidth":2},"encoding":{"x2":{"field":"x2"},"y2":{"field":"y2"}}},
   {"data":{"values":[{"x":-8,"x2":0,"y":0},{"x":-8,"x2":0,"y":1},{"x":-8,"x2":0,"y":2},{"x":-8,"x2":0,"y":3},{"x":-8,"x2":0,"y":4},{"x":-8,"x2":0,"y":5},{"x":-8,"x2":0,"y":6}]},"mark":{"type":"rule","stroke":"#444","strokeWidth":1},"encoding":{"x2":{"field":"x2"}}},
   {"data":{"values":[{"x":0,"y":-0.23,"y2":-0.38},{"x":89.5,"y":-0.23,"y2":-0.38},{"x":179,"y":-0.23,"y2":-0.38},{"x":268.5,"y":-0.23,"y2":-0.38},{"x":358,"y":-0.23,"y2":-0.38},{"x":447.5,"y":-0.23,"y2":-0.38},{"x":537,"y":-0.23,"y2":-0.38},{"x":626.5,"y":-0.23,"y2":-0.38}]},"mark":{"type":"rule","stroke":"#444","strokeWidth":1},"encoding":{"y2":{"field":"y2"}}},
   {"data":{"values":[{"x":58.4,"y":-0.23,"y2":6.15},{"x":118.5,"y":-0.23,"y2":6.15},{"x":180,"y":-0.23,"y2":6.15},{"x":240,"y":-0.23,"y2":6.15},{"x":300,"y":-0.23,"y2":6.15},{"x":360,"y":-0.23,"y2":6.15},{"x":421,"y":-0.23,"y2":6.15},{"x":483,"y":-0.23,"y2":6.15},{"x":543,"y":-0.23,"y2":6.15},{"x":604,"y":-0.23,"y2":6.15}]},"mark":{"type":"rule","stroke":"#111","strokeWidth":1.8,"strokeDash":[7,5]},"encoding":{"y2":{"field":"y2"}}},
   {"data":{"name":"aug_r"},"mark":{"type":"line","stroke":"#7a0c0c","strokeWidth":2.4,"interpolate":"monotone"}},
   {"data":{"name":"aug_m"},"mark":{"type":"line","stroke":"#ff14ff","strokeWidth":2.4,"interpolate":"monotone"}},
   {"data":{"name":"aug_b"},"mark":{"type":"line","stroke":"#1515e0","strokeWidth":2.4,"interpolate":"monotone"}},
   {"data":{"name":"aug_t"},"mark":{"type":"line","stroke":"#188080","strokeWidth":2.4,"interpolate":"monotone"}}
  ]},
 {"encoding": {"x": {"field":"x","type":"quantitative","scale":{"domain":[0,5.07],"range":[438,719],"nice":false,"zero":false}},"y": {"field":"y","type":"quantitative","scale":{"domain":[0,1],"range":[1343,1192],"nice":false,"zero":false}}},
  "layer": [
   {"data":{"values":[{"x":0,"y":0,"x2":5.07,"y2":1}]},"mark":{"type":"rect","fill":"transparent","stroke":"#9a9a9a","strokeWidth":1.2},"encoding":{"x2":{"field":"x2"},"y2":{"field":"y2"}}},
   {"data":{"values":[{"x":0,"y":0.146},{"x":5,"y":0.899}]},"mark":{"type":"line","stroke":"#45a845","strokeWidth":1.8}},
   {"data":{"values":[{"x":0,"y":0.146},{"x":1,"y":0.311},{"x":1,"y":0.291},{"x":1,"y":0.274},{"x":3.5,"y":0.627},{"x":5,"y":0.974},{"x":5,"y":0.936},{"x":5,"y":0.892},{"x":5,"y":0.848}]},"mark":{"type":"point","shape":"circle","size":36,"filled":false,"stroke":"#2c2cd0","strokeWidth":1.3,"opacity":1}},
   {"data":{"values":[{"x":0.126,"y":0.157}]},"mark":{"type":"point","shape":"M-1,0L1,0M0,-1L0,1","size":49,"filled":false,"stroke":"#e02020","strokeWidth":1.4,"opacity":1}}
  ]}
]
}
